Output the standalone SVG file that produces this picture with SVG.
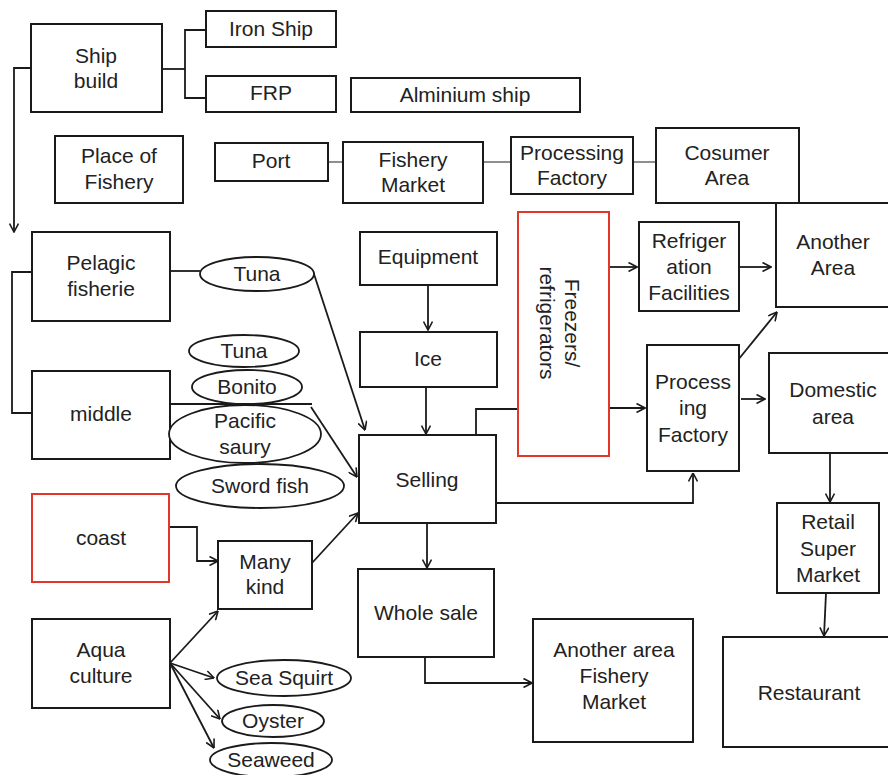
<svg xmlns="http://www.w3.org/2000/svg" width="888" height="775" viewBox="0 0 888 775">
  <style>
    .box { fill: #ffffff; stroke: #1a1a1a; stroke-width: 2; }
    .red { fill: #ffffff; stroke: #e2362b; stroke-width: 2; }
    .oval { fill: #ffffff; stroke: #1a1a1a; stroke-width: 1.8; }
    .lbl { font-family: "Liberation Sans", Arial, sans-serif; font-size: 21px; fill: #222222; text-anchor: middle; }
    .wire { fill: none; stroke: #1a1a1a; stroke-width: 1.8; }
    .thin { fill: none; stroke: #444444; stroke-width: 1.2; }
    .arrow { fill: none; stroke: #1a1a1a; stroke-width: 1.8; marker-end: url(#head); }
  </style>
  <defs>
    <marker id="head" viewBox="0 0 10 10" refX="9.5" refY="5" markerWidth="10" markerHeight="10" markerUnits="userSpaceOnUse" orient="auto">
      <path d="M1,0.5 L9.5,5 L1,9.5" fill="none" stroke="#1a1a1a" stroke-width="1.6"/>
    </marker>
  </defs>
  <rect width="888" height="775" fill="#ffffff"/>

  <!-- connectors -->
  <g id="connectors">
    <!-- ship build branches -->
    <polyline class="wire" points="162,69 185,69"/>
    <polyline class="wire" points="206,30 185,30 185,98 206,98"/>
    <polyline class="arrow" points="31,68 14,68 14,232"/>
    <!-- top chain -->
    <line class="thin" x1="328" y1="162" x2="343" y2="162"/>
    <line class="thin" x1="483" y1="162" x2="511" y2="162"/>
    <line class="thin" x1="633" y1="162" x2="656" y2="162"/>
    <!-- fishery branches -->
    <polyline class="wire" points="32,272 12,272 12,413 32,413"/>
    <line class="wire" x1="170" y1="271" x2="200" y2="271"/>
    <polyline class="wire" points="170,404 312,404"/>
    <line class="arrow" x1="313" y1="271" x2="365" y2="430"/>
    <line class="arrow" x1="311" y1="407" x2="357" y2="477"/>
    <polyline class="arrow" points="169,527 197,527 197,561 218,561"/>
    <line class="arrow" x1="312" y1="563" x2="358" y2="513"/>
    <!-- aquaculture fan -->
    <line class="arrow" x1="170" y1="663" x2="218" y2="611"/>
    <line class="arrow" x1="170" y1="663" x2="214" y2="678"/>
    <line class="arrow" x1="170" y1="663" x2="220" y2="719"/>
    <line class="arrow" x1="170" y1="663" x2="214" y2="748"/>
    <!-- centre column -->
    <line class="arrow" x1="428" y1="285" x2="428" y2="330"/>
    <line class="arrow" x1="426" y1="387" x2="426" y2="434"/>
    <polyline class="wire" points="476,435 476,409 518,409"/>
    <line class="arrow" x1="609" y1="408" x2="645" y2="408"/>
    <line class="arrow" x1="609" y1="267" x2="637" y2="267"/>
    <line class="arrow" x1="739" y1="267" x2="771" y2="267"/>
    <line class="arrow" x1="738" y1="360" x2="777" y2="312"/>
    <line class="arrow" x1="741" y1="399" x2="765" y2="399"/>
    <polyline class="arrow" points="496,503 693,503 693,473"/>
    <line class="arrow" x1="427" y1="523" x2="427" y2="568"/>
    <polyline class="arrow" points="425,657 425,683 532,683"/>
    <line class="arrow" x1="830" y1="454" x2="830" y2="502"/>
    <line class="arrow" x1="826" y1="593" x2="824" y2="636"/>
  </g>

  <!-- nodes -->
  <g id="ship-build"><rect class="box" x="31" y="24" width="131" height="88"/>
    <text class="lbl" x="96"><tspan x="96" y="63">Ship</tspan><tspan x="96" y="88">build</tspan></text></g>
  <g id="iron-ship"><rect class="box" x="206" y="11" width="130" height="36"/>
    <text class="lbl" x="271" y="36">Iron Ship</text></g>
  <g id="frp"><rect class="box" x="206" y="76" width="130" height="36"/>
    <text class="lbl" x="271" y="100">FRP</text></g>
  <g id="alminium-ship"><rect class="box" x="351" y="78" width="229" height="34"/>
    <text class="lbl" x="465" y="102">Alminium ship</text></g>

  <g id="place-of-fishery"><rect class="box" x="55" y="136" width="128" height="67"/>
    <text class="lbl"><tspan x="119" y="163">Place of</tspan><tspan x="119" y="189">Fishery</tspan></text></g>
  <g id="port"><rect class="box" x="215" y="143" width="113" height="38"/>
    <text class="lbl" x="271" y="168">Port</text></g>
  <g id="fishery-market"><rect class="box" x="343" y="142" width="140" height="61"/>
    <text class="lbl"><tspan x="413" y="167">Fishery</tspan><tspan x="413" y="192">Market</tspan></text></g>
  <g id="processing-factory-top"><rect class="box" x="511" y="137" width="122" height="57"/>
    <text class="lbl"><tspan x="572" y="160">Processing</tspan><tspan x="572" y="185">Factory</tspan></text></g>
  <g id="cosumer-area"><rect class="box" x="656" y="128" width="143" height="75"/>
    <text class="lbl"><tspan x="727" y="160">Cosumer</tspan><tspan x="727" y="185">Area</tspan></text></g>

  <g id="pelagic"><rect class="box" x="32" y="232" width="138" height="89"/>
    <text class="lbl"><tspan x="101" y="270">Pelagic</tspan><tspan x="101" y="296">fisherie</tspan></text></g>
  <g id="tuna-1"><ellipse class="oval" cx="257" cy="274" rx="57" ry="17"/>
    <text class="lbl" x="257" y="281">Tuna</text></g>
  <g id="middle"><rect class="box" x="32" y="371" width="138" height="88"/>
    <text class="lbl" x="101" y="421">middle</text></g>
  <g id="tuna-2"><ellipse class="oval" cx="244" cy="351" rx="55" ry="16"/>
    <text class="lbl" x="244" y="358">Tuna</text></g>
  <g id="bonito"><ellipse class="oval" cx="247" cy="387" rx="55" ry="17"/>
    <text class="lbl" x="247" y="394">Bonito</text></g>
  <g id="pacific-saury"><ellipse class="oval" cx="245" cy="434" rx="76" ry="29"/>
    <text class="lbl"><tspan x="245" y="428">Pacific</tspan><tspan x="245" y="454">saury</tspan></text></g>
  <g id="sword-fish"><ellipse class="oval" cx="260" cy="486" rx="84" ry="22"/>
    <text class="lbl" x="260" y="493">Sword fish</text></g>
  <!-- re-draw the middle line over the ovals -->
  <line class="wire" x1="170" y1="404" x2="312" y2="404"/>

  <g id="coast"><rect class="red" x="32" y="494" width="137" height="88"/>
    <text class="lbl" x="101" y="545">coast</text></g>
  <g id="many-kind"><rect class="box" x="218" y="541" width="94" height="68"/>
    <text class="lbl"><tspan x="265" y="569">Many</tspan><tspan x="265" y="594">kind</tspan></text></g>
  <g id="aqua-culture"><rect class="box" x="32" y="619" width="138" height="89"/>
    <text class="lbl"><tspan x="101" y="657">Aqua</tspan><tspan x="101" y="683">culture</tspan></text></g>
  <g id="sea-squirt"><ellipse class="oval" cx="284" cy="678" rx="67" ry="18"/>
    <text class="lbl" x="284" y="685">Sea Squirt</text></g>
  <g id="oyster"><ellipse class="oval" cx="273" cy="721" rx="51" ry="16"/>
    <text class="lbl" x="273" y="728">Oyster</text></g>
  <g id="seaweed"><ellipse class="oval" cx="271" cy="760" rx="61" ry="17"/>
    <text class="lbl" x="271" y="767">Seaweed</text></g>

  <g id="equipment"><rect class="box" x="360" y="232" width="137" height="53"/>
    <text class="lbl" x="428" y="264">Equipment</text></g>
  <g id="ice"><rect class="box" x="360" y="332" width="137" height="55"/>
    <text class="lbl" x="428" y="366">Ice</text></g>
  <g id="selling"><rect class="box" x="359" y="435" width="137" height="88"/>
    <text class="lbl" x="427" y="487">Selling</text></g>
  <g id="whole-sale"><rect class="box" x="358" y="569" width="136" height="88"/>
    <text class="lbl" x="426" y="620">Whole sale</text></g>
  <g id="another-area-market"><rect class="box" x="533" y="619" width="160" height="123"/>
    <text class="lbl"><tspan x="614" y="657">Another area</tspan><tspan x="614" y="683">Fishery</tspan><tspan x="614" y="709">Market</tspan></text></g>

  <g id="freezers"><rect class="red" x="518" y="212" width="91" height="244"/>
    <text class="lbl" transform="translate(565,323) rotate(90)"><tspan x="0" y="0">Freezers/</tspan><tspan x="0" y="25">refrigerators</tspan></text></g>
  <g id="refrigeration"><rect class="box" x="639" y="222" width="100" height="89"/>
    <text class="lbl"><tspan x="689" y="248">Refriger</tspan><tspan x="689" y="274">ation</tspan><tspan x="689" y="300">Facilities</tspan></text></g>
  <g id="another-area"><rect class="box" x="776" y="203" width="130" height="104"/>
    <text class="lbl"><tspan x="833" y="249">Another</tspan><tspan x="833" y="275">Area</tspan></text></g>
  <g id="processing-factory"><rect class="box" x="647" y="345" width="92" height="126"/>
    <text class="lbl"><tspan x="693" y="389">Process</tspan><tspan x="693" y="415">ing</tspan><tspan x="693" y="442">Factory</tspan></text></g>
  <g id="domestic-area"><rect class="box" x="769" y="353" width="140" height="100"/>
    <text class="lbl"><tspan x="833" y="397">Domestic</tspan><tspan x="833" y="424">area</tspan></text></g>
  <g id="retail"><rect class="box" x="777" y="503" width="102" height="90"/>
    <text class="lbl"><tspan x="828" y="529">Retail</tspan><tspan x="828" y="556">Super</tspan><tspan x="828" y="582">Market</tspan></text></g>
  <g id="restaurant"><rect class="box" x="723" y="637" width="185" height="110"/>
    <text class="lbl" x="809" y="700">Restaurant</text></g>
</svg>
